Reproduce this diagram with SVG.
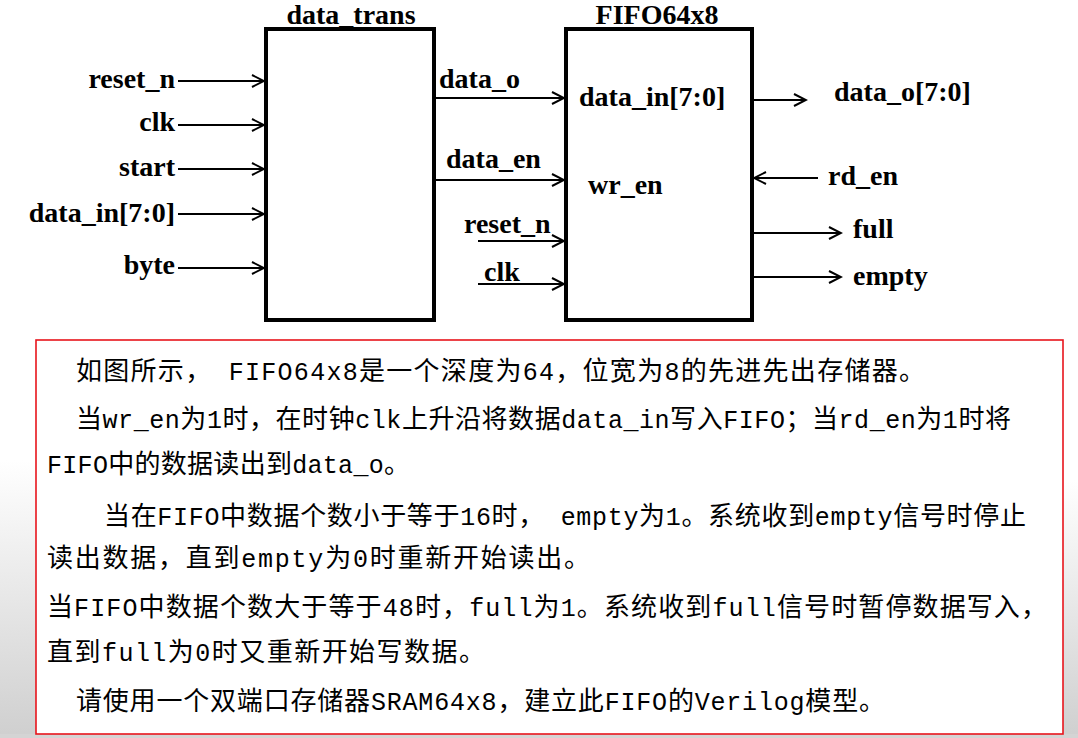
<svg xmlns="http://www.w3.org/2000/svg" width="1078" height="738" viewBox="0 0 1078 738">
<style>
.lbl{font-family:"Liberation Serif","Times New Roman",serif;font-weight:bold;font-size:28px;fill:#000}
.box{fill:#fff;stroke:#000;stroke-width:4}
.wire{stroke:#000;stroke-width:1.8;fill:none}
.cn{font-family:"Noto Sans CJK SC",sans-serif;font-size:26px;fill:#000}
.m{font-family:"Liberation Mono","Noto Sans CJK SC",monospace;font-size:25px}
</style>
<defs>
<marker id="arr" markerUnits="userSpaceOnUse" markerWidth="16" markerHeight="16" viewBox="-14 -8 16 16" refX="0" refY="0" orient="auto">
<path d="M-12,-6 L0,0 L-12,6" fill="none" stroke="#000" stroke-width="2"/>
</marker>
<linearGradient id="bgL" x1="0" y1="0" x2="0" y2="1">
<stop offset="0" stop-color="#fff"/>
<stop offset="1" stop-color="#cfcfcf"/>
</linearGradient>
</defs>
<rect width="1078" height="738" fill="#fff"/>
<rect x="0" y="460" width="36" height="278" fill="url(#bgL)"/>
<rect x="1063" y="480" width="15" height="258" fill="url(#bgL)"/>
<rect x="0" y="734" width="1078" height="4" fill="#d4d4d4"/>

<g id="node-data_trans">
<text class="lbl" x="351" y="24" text-anchor="middle">data_trans</text>
<rect class="box" x="266" y="29" width="168" height="291"/>
</g>

<g id="node-fifo64x8">
<text class="lbl" x="657" y="24" text-anchor="middle">FIFO64x8</text>
<rect class="box" x="566" y="29" width="186" height="291"/>
<text class="lbl" x="579" y="106">data_in[7:0]</text>
<text class="lbl" x="588" y="194">wr_en</text>
</g>

<g id="connectors">
<line class="wire" x1="178" y1="81" x2="264" y2="81" marker-end="url(#arr)"/>
<line class="wire" x1="178" y1="125" x2="264" y2="125" marker-end="url(#arr)"/>
<line class="wire" x1="178" y1="169" x2="264" y2="169" marker-end="url(#arr)"/>
<line class="wire" x1="178" y1="214" x2="264" y2="214" marker-end="url(#arr)"/>
<line class="wire" x1="178" y1="268" x2="264" y2="268" marker-end="url(#arr)"/>
<line class="wire" x1="436" y1="98" x2="564" y2="98" marker-end="url(#arr)"/>
<line class="wire" x1="436" y1="180" x2="564" y2="180" marker-end="url(#arr)"/>
<line class="wire" x1="478" y1="241" x2="564" y2="241" marker-end="url(#arr)"/>
<line class="wire" x1="478" y1="284" x2="564" y2="284" marker-end="url(#arr)"/>
<line class="wire" x1="754" y1="100" x2="806" y2="100" marker-end="url(#arr)"/>
<line class="wire" x1="818" y1="178" x2="754" y2="178" marker-end="url(#arr)"/>
<line class="wire" x1="754" y1="233" x2="841" y2="233" marker-end="url(#arr)"/>
<line class="wire" x1="754" y1="277" x2="841" y2="277" marker-end="url(#arr)"/>
</g>

<g id="port-labels">
<text class="lbl" x="175" y="88" text-anchor="end">reset_n</text>
<text class="lbl" x="175" y="131" text-anchor="end">clk</text>
<text class="lbl" x="175" y="176" text-anchor="end">start</text>
<text class="lbl" x="175" y="222" text-anchor="end">data_in[7:0]</text>
<text class="lbl" x="175" y="274" text-anchor="end">byte</text>
<text class="lbl" x="439" y="88">data_o</text>
<text class="lbl" x="446" y="168">data_en</text>
<text class="lbl" x="464" y="233">reset_n</text>
<text class="lbl" x="484" y="281">clk</text>
<text class="lbl" x="834" y="101">data_o[7:0]</text>
<text class="lbl" x="828" y="185">rd_en</text>
<text class="lbl" x="853" y="238">full</text>
<text class="lbl" x="853" y="285">empty</text>
</g>

<g id="description">
<rect x="36" y="340" width="1027" height="394" fill="#fff" stroke="#e8141c" stroke-width="1.6"/>
<text class="cn" x="76" y="380" textLength="849" lengthAdjust="spacing">如图所示，<tspan class="m"> FIFO64x8</tspan>是一个深度为<tspan class="m">64</tspan>，位宽为<tspan class="m">8</tspan>的先进先出存储器。</text>
<text class="cn" x="76" y="428" textLength="935" lengthAdjust="spacing">当<tspan class="m">wr_en</tspan>为<tspan class="m">1</tspan>时，在时钟<tspan class="m">clk</tspan>上升沿将数据<tspan class="m">data_in</tspan>写入<tspan class="m">FIFO</tspan>；当<tspan class="m">rd_en</tspan>为<tspan class="m">1</tspan>时将</text>
<text class="cn" x="47" y="473" textLength="363" lengthAdjust="spacing"><tspan class="m">FIFO</tspan>中的数据读出到<tspan class="m">data_o</tspan>。</text>
<text class="cn" x="104" y="525" textLength="922" lengthAdjust="spacing">当在<tspan class="m">FIFO</tspan>中数据个数小于等于<tspan class="m">16</tspan>时，<tspan class="m"> empty</tspan>为<tspan class="m">1</tspan>。系统收到<tspan class="m">empty</tspan>信号时停止</text>
<text class="cn" x="47" y="567" textLength="543" lengthAdjust="spacing">读出数据，直到<tspan class="m">empty</tspan>为<tspan class="m">0</tspan>时重新开始读出。</text>
<text class="cn" x="47" y="616" textLength="1000" lengthAdjust="spacing">当<tspan class="m">FIFO</tspan>中数据个数大于等于<tspan class="m">48</tspan>时，<tspan class="m">full</tspan>为<tspan class="m">1</tspan>。系统收到<tspan class="m">full</tspan>信号时暂停数据写入，</text>
<text class="cn" x="47" y="661" textLength="438" lengthAdjust="spacing">直到<tspan class="m">full</tspan>为<tspan class="m">0</tspan>时又重新开始写数据。</text>
<text class="cn" x="76" y="710" textLength="809" lengthAdjust="spacing">请使用一个双端口存储器<tspan class="m">SRAM64x8</tspan>，建立此<tspan class="m">FIFO</tspan>的<tspan class="m">Verilog</tspan>模型。</text>
</g>
</svg>
